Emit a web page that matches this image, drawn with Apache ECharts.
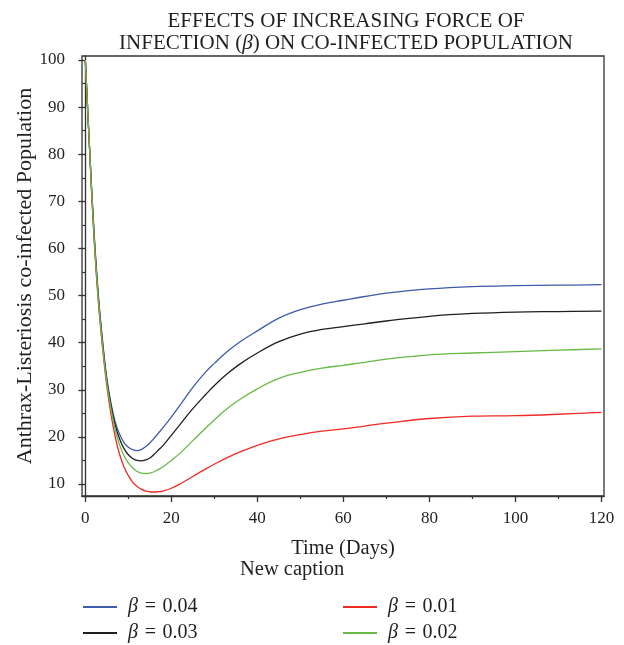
<!DOCTYPE html>
<html>
<head>
<meta charset="utf-8">
<script src="https://cdn.jsdelivr.net/npm/echarts@6/dist/echarts.min.js"></script>
<style>
  html, body { margin: 0; padding: 0; background: #fff; }
  #chart { width: 624px; height: 645px; }
</style>
</head>
<body>
<div id="chart"></div>
<script>
// time points (days)
const days = [0, 1, 2, 3, 4, 5, 6, 7, 8, 9, 10, 11, 12, 13, 14, 15, 16, 17, 18, 20, 22, 25, 28, 30, 33, 36, 40, 45, 50, 55, 60, 65, 70, 80, 90, 100, 110, 120];

// co-infected population for each beta
const beta004 = [100, 81, 64, 50.5, 40.5, 32.5, 27, 23, 20.5, 18.8, 17.8, 17.3, 17.1, 17.3, 17.9, 18.7, 19.7, 20.8, 21.9, 24.2, 26.7, 30.5, 33.8, 35.6, 38.1, 40.2, 42.5, 45.2, 47.0, 48.2, 49.0, 49.8, 50.5, 51.4, 51.9, 52.1, 52.2, 52.3];
const beta003 = [100, 81, 63.5, 50, 40, 32, 26.5, 22.3, 19.5, 17.5, 16.2, 15.4, 15.0, 14.9, 15.1, 15.5, 16.3, 17.2, 18.1, 20.3, 22.6, 26.0, 29.0, 30.9, 33.4, 35.5, 37.8, 40.2, 41.8, 42.8, 43.4, 44.0, 44.6, 45.6, 46.2, 46.5, 46.6, 46.7];
const beta002 = [100, 81, 63, 49.5, 39.5, 31.5, 25.8, 21.3, 18.2, 16, 14.5, 13.4, 12.7, 12.3, 12.2, 12.3, 12.6, 13.1, 13.6, 15.0, 16.5, 19.2, 21.9, 23.6, 26.0, 28.0, 30.2, 32.4, 33.7, 34.6, 35.2, 35.8, 36.5, 37.4, 37.8, 38.1, 38.4, 38.7];
const beta001 = [100, 81, 62.5, 49, 39, 30.8, 24.6, 19.8, 16.2, 13.6, 11.8, 10.4, 9.5, 8.9, 8.5, 8.35, 8.3, 8.35, 8.5, 9.1, 10.0, 11.6, 13.2, 14.2, 15.6, 16.8, 18.2, 19.6, 20.5, 21.2, 21.7, 22.3, 22.9, 23.9, 24.4, 24.5, 24.8, 25.2];

// tick labels
const xTicks = [0, 20, 40, 60, 80, 100, 120];
const xMinor = [10, 30, 50, 70, 90, 110];
const yTicks = [10, 20, 30, 40, 50, 60, 70, 80, 90, 100];
const yMinor = [15, 25, 35, 45, 55, 65, 75, 85, 95];

const font = '"Liberation Serif", "DejaVu Serif", serif';
const ink = '#231f20';
const xMin = -0.77, xMax = 120.6, yMin = 7.45, yMax = 100.85;

const chart = echarts.init(document.getElementById('chart'));

const pair = (ys) => days.map((d, i) => [d, ys[i]]);
const mk = (name, ys, color) => ({
  name: name,
  type: 'line',
  data: pair(ys),
  smooth: 0.4,
  showSymbol: false,
  symbol: 'none',
  lineStyle: { color: color, width: 1.3 },
  itemStyle: { color: color },
  xAxisIndex: 0,
  yAxisIndex: 0,
  z: 3
});

const legendRich = {
  i: { fontFamily: font, fontStyle: 'italic', fontSize: 20, color: ink },
  n: { fontFamily: font, fontSize: 20, color: ink }
};
// "β = 0.04" -> italic beta, a little more room round the equals sign
const legendFmt = (name) => '{i|β}{n|\u2004=\u2004' + name.split('= ')[1] + '}';
const oneLegend = (name, left, top) => ({
  left: left, top: top, padding: 0, itemWidth: 34, itemHeight: 2, icon: 'rect',
  data: [name], formatter: legendFmt,
  textStyle: { rich: legendRich, padding: [0, 0, 0, 6] }
});

chart.setOption({
  animation: false,
  backgroundColor: '#fff',
  textStyle: { fontFamily: font },
  title: {
    text: 'EFFECTS OF INCREASING FORCE OF\nINFECTION ({i|β}) ON CO-INFECTED POPULATION',
    left: 341,
    top: 5,
    textAlign: 'center',
    textStyle: {
      fontFamily: font, fontSize: 21, fontWeight: 'normal', color: ink, lineHeight: 22,
      rich: {
        i: { fontFamily: font, fontSize: 21, fontStyle: 'italic', color: ink, lineHeight: 22 }
      }
    }
  },
  grid: {
    left: 82, top: 56, right: 20, bottom: 149,
    show: true, borderColor: '#333', borderWidth: 1.3, backgroundColor: 'transparent'
  },
  legend: [
    oneLegend('β = 0.04', 83, 597),
    oneLegend('β = 0.03', 83, 623),
    oneLegend('β = 0.01', 343, 597),
    oneLegend('β = 0.02', 343, 623)
  ],
  graphic: [
    {
      type: 'text', left: 240, top: 559,
      style: { text: 'New caption', fontFamily: font, fontSize: 20.5, fill: ink }
    }
  ],
  xAxis: [
    {
      type: 'value', min: xMin, max: xMax,
      name: 'Time (Days)', nameLocation: 'middle', nameGap: 42,
      nameTextStyle: { fontFamily: font, fontSize: 20.5, color: ink },
      axisLine: { show: true, lineStyle: { color: '#333', width: 1.3 } },
      axisTick: { show: true, length: 6, customValues: xTicks, lineStyle: { color: '#333', width: 1.3 } },
      axisLabel: { customValues: xTicks, margin: 14, fontFamily: font, fontSize: 17, color: ink },
      splitLine: { show: false }
    },
    {
      type: 'value', min: xMin, max: xMax, position: 'bottom',
      axisLine: { show: false },
      axisTick: { show: true, length: 3, customValues: xMinor, lineStyle: { color: '#333', width: 1.2 } },
      axisLabel: { show: false },
      splitLine: { show: false }
    }
  ],
  yAxis: [
    {
      type: 'value', min: yMin, max: yMax,
      name: 'Anthrax-Listeriosis co-infected Population', nameLocation: 'middle', nameGap: 46,
      nameMoveOverlap: false,
      nameTextStyle: { fontFamily: font, fontSize: 22, color: ink },
      axisLine: { show: true, lineStyle: { color: '#333', width: 1.3 } },
      axisTick: { show: true, length: 7, customValues: yTicks, lineStyle: { color: '#333', width: 1.3 } },
      axisLabel: { customValues: yTicks, margin: 17, fontFamily: font, fontSize: 17, color: ink },
      splitLine: { show: false }
    },
    {
      type: 'value', min: yMin, max: yMax, position: 'left',
      axisLine: { show: false },
      axisTick: { show: true, length: 3, customValues: yMinor, lineStyle: { color: '#333', width: 1.2 } },
      axisLabel: { show: false },
      splitLine: { show: false }
    }
  ],
  series: [
    mk('β = 0.04', beta004, '#3f5bab'),
    mk('β = 0.03', beta003, '#1f1f1f'),
    mk('β = 0.01', beta001, '#ee2b25'),
    mk('β = 0.02', beta002, '#66bb44')
  ]
});
</script>
</body>
</html>
